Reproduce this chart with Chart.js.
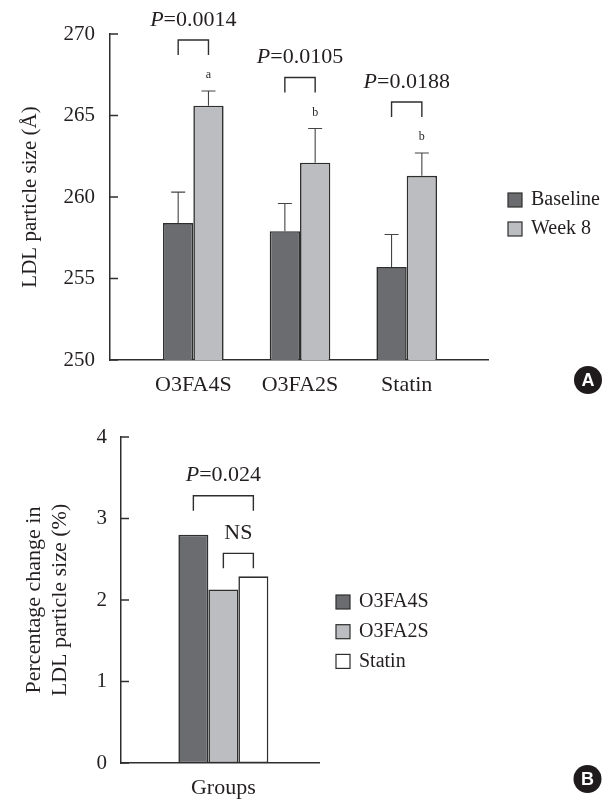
<!DOCTYPE html>
<html>
<head>
<meta charset="utf-8">
<script src="https://cdn.jsdelivr.net/npm/chart.js@4.4.1/dist/chart.umd.min.js"></script>
<style>
html,body{margin:0;padding:0;background:#fff}
#wA{position:absolute;left:0;top:0}
#wB{position:absolute;left:0;top:405px}
</style>
</head>
<body>
<div id="wA"><canvas id="cA" width="608" height="405"></canvas></div>
<div id="wB"><canvas id="cB" width="608" height="397"></canvas></div>
<script>
// panel A: LDL particle size by group
const groupsA=['O3FA4S','O3FA2S','Statin'];
const baseline=[258.4,257.9,255.7];
const baselineErr=[1.9,1.7,2.0];
const week8=[265.6,262.1,261.3];
const week8Err=[0.9,2.1,1.4];
const pValsA=['0.0014','0.0105','0.0188'];
const marksA=['a','b','b'];
const yTicksA=[250,255,260,265,270];

// panel B: percentage change
const groupsB=['O3FA4S','O3FA2S','Statin'];
const pctChange=[2.80,2.13,2.29];
const xLabelB=['Groups'];
const pValB='0.024';
const nsLabelB='NS';
const yTicksB=[0,1,2,3,4];

const SERIF="'Liberation Serif','DejaVu Serif',serif";
const INK='#231f20',EDGE='#2e2e2e';
const DARK='#6b6c70',LIGHT='#bcbdc1',WHITE='#ffffff';

function pText(ctx,cx,cy,val,size){
  ctx.textBaseline='middle';ctx.textAlign='left';ctx.fillStyle=INK;
  ctx.font='italic '+size+'px '+SERIF;const w1=ctx.measureText('P').width;
  ctx.font=size+'px '+SERIF;const rest='='+val;const w2=ctx.measureText(rest).width;
  const x0=cx-(w1+w2)/2;
  ctx.font='italic '+size+'px '+SERIF;ctx.fillText('P',x0,cy);
  ctx.font=size+'px '+SERIF;ctx.fillText(rest,x0+w1,cy);
}
function bracket(ctx,xl,xr,top,leg){
  ctx.beginPath();ctx.moveTo(xl,top+leg);ctx.lineTo(xl,top);ctx.lineTo(xr,top);ctx.lineTo(xr,top+leg);ctx.stroke();
}
function inwardTicks(ctx,y,x0){
  y.ticks.forEach(t=>{const py=y.getPixelForValue(t.value);ctx.beginPath();ctx.moveTo(x0,py);ctx.lineTo(x0+8,py);ctx.stroke()});
}
function legend(ctx,chart,x,y0,step){
  chart.data.datasets.forEach((d,i)=>{
    const y=y0+i*step;
    ctx.fillStyle=d.backgroundColor;ctx.fillRect(x,y,14,14);
    ctx.strokeStyle=EDGE;ctx.lineWidth=1.2;ctx.strokeRect(x,y,14,14);
    ctx.fillStyle=INK;ctx.font='20px '+SERIF;ctx.textAlign='left';ctx.textBaseline='middle';
    ctx.fillText(d.label,x+23,y+7);
  });
}
function badge(ctx,cx,cy,txt){
  ctx.fillStyle='#1f1b1c';ctx.beginPath();ctx.arc(cx,cy,14,0,Math.PI*2);ctx.fill();
  ctx.fillStyle='#fff';ctx.font='bold 18px "Liberation Sans",Arial,sans-serif';ctx.textAlign='center';ctx.textBaseline='middle';
  ctx.fillText(txt,cx,cy+1);
}

const annotA={id:'annotA',afterDraw(chart){
  const {ctx,scales:{y},chartArea}=chart;
  ctx.save();
  ctx.strokeStyle=EDGE;ctx.lineWidth=1.5;
  inwardTicks(ctx,y,chartArea.left);
  const m0=chart.getDatasetMeta(0),m1=chart.getDatasetMeta(1);
  const errTops=[[],[]];
  ctx.strokeStyle='#444';ctx.lineWidth=1.1;
  chart.data.datasets.forEach((d,di)=>{
    chart.getDatasetMeta(di).data.forEach((bar,i)=>{
      const ey=y.getPixelForValue(d.data[i].y+d.err[i]);
      errTops[di][i]=ey;
      ctx.beginPath();ctx.moveTo(bar.x,bar.y);ctx.lineTo(bar.x,ey);ctx.moveTo(bar.x-7,ey);ctx.lineTo(bar.x+7,ey);ctx.stroke();
    });
  });
  groupsA.forEach((g,i)=>{
    const xl=m0.data[i].x,xr=m1.data[i].x;
    const top=Math.min(errTops[0][i],errTops[1][i])-51;
    ctx.strokeStyle=EDGE;ctx.lineWidth=1.4;
    bracket(ctx,xl,xr,top,15);
    pText(ctx,(xl+xr)/2,top-20,pValsA[i],22);
    ctx.fillStyle=INK;ctx.font='12px '+SERIF;ctx.textAlign='center';ctx.textBaseline='middle';
    ctx.fillText(marksA[i],xr,errTops[1][i]-16);
  });
  legend(ctx,chart,508,193,29);
  badge(ctx,588,380,'A');
  ctx.restore();
}};

const annotB={id:'annotB',afterDraw(chart){
  const {ctx,scales:{y},chartArea}=chart;
  ctx.save();
  ctx.strokeStyle=EDGE;ctx.lineWidth=1.5;
  inwardTicks(ctx,y,chartArea.left);
  const bars=chart.data.datasets.map((d,i)=>chart.getDatasetMeta(i).data[0]);
  ctx.lineWidth=1.4;
  const topAll=Math.min(...bars.map(b=>b.y))-39;
  bracket(ctx,bars[0].x,bars[2].x,topAll,15);
  pText(ctx,(bars[0].x+bars[2].x)/2,topAll-21,pValB,22);
  const topNs=Math.min(bars[1].y,bars[2].y)-23;
  bracket(ctx,bars[1].x,bars[2].x,topNs,15);
  ctx.fillStyle=INK;ctx.font='22px '+SERIF;ctx.textAlign='center';ctx.textBaseline='middle';
  ctx.fillText(nsLabelB,(bars[1].x+bars[2].x)/2,topNs-20);
  legend(ctx,chart,336,190,29.7);
  badge(ctx,587.5,374,'B');
  ctx.restore();
}};

const barStyle={borderColor:EDGE,borderWidth:1.6,borderSkipped:false,barPercentage:1};

new Chart(document.getElementById('cA'),{
  type:'bar',
  data:{datasets:[
    Object.assign({label:'Baseline',data:baseline.map((v,i)=>({x:i,y:v})),err:baselineErr,backgroundColor:DARK,categoryPercentage:0.568},barStyle),
    Object.assign({label:'Week 8',data:week8.map((v,i)=>({x:i,y:v})),err:week8Err,backgroundColor:LIGHT,categoryPercentage:0.568},barStyle)
  ]},
  options:{
    responsive:false,animation:false,devicePixelRatio:1,
    layout:{padding:{top:34,right:120,left:0,bottom:0}},
    plugins:{legend:{display:false},tooltip:{enabled:false}},
    scales:{
      x:{type:'linear',offset:false,min:-0.781,max:2.762,
        afterBuildTicks:s=>{s.ticks=groupsA.map((g,i)=>({value:i}))},
        ticks:{callback:v=>groupsA[v],font:{family:SERIF,size:22},color:INK,padding:12,maxRotation:0},
        grid:{display:false,drawTicks:false,offset:false},border:{color:EDGE,width:1.5},
        afterFit:s=>{s.height=45}},
      y:{min:250,max:270,
        afterBuildTicks:s=>{s.ticks=yTicksA.map(v=>({value:v}))},
        ticks:{font:{family:SERIF,size:21},color:INK,padding:15},
        grid:{display:false,drawTicks:false},border:{color:EDGE,width:1.5},
        title:{display:true,text:'LDL particle size (Å)',font:{family:SERIF,size:21},color:INK,padding:{top:18,bottom:0}},
        afterFit:s=>{s.width=110}}
    }
  },
  plugins:[annotA]
});

const fillsB=[DARK,LIGHT,WHITE];
new Chart(document.getElementById('cB'),{
  type:'bar',
  data:{datasets:groupsB.map((g,i)=>Object.assign({label:g,data:[{x:0,y:pctChange[i]}],backgroundColor:fillsB[i],categoryPercentage:0.4545},barStyle))},
  options:{
    responsive:false,animation:false,devicePixelRatio:1,
    layout:{padding:{top:32,right:289,left:0,bottom:0}},
    plugins:{legend:{display:false},tooltip:{enabled:false}},
    scales:{
      x:{type:'linear',offset:false,min:-0.517,max:0.483,
        afterBuildTicks:s=>{s.ticks=xLabelB.map((g,i)=>({value:i}))},
        ticks:{callback:v=>xLabelB[v],font:{family:SERIF,size:22},color:INK,padding:12,maxRotation:0},
        grid:{display:false,drawTicks:false,offset:false},border:{color:EDGE,width:1.5},
        afterFit:s=>{s.height=39}},
      y:{min:0,max:4,
        afterBuildTicks:s=>{s.ticks=yTicksB.map(v=>({value:v}))},
        ticks:{font:{family:SERIF,size:21},color:INK,padding:14},
        grid:{display:false,drawTicks:false},border:{color:EDGE,width:1.5},
        title:{display:true,text:['Percentage change in','LDL particle size (%)'],font:{family:SERIF,size:22},color:INK,padding:{top:21,bottom:0}},
        afterFit:s=>{s.width=121}}
    }
  },
  plugins:[annotB]
});
</script>
</body>
</html>
